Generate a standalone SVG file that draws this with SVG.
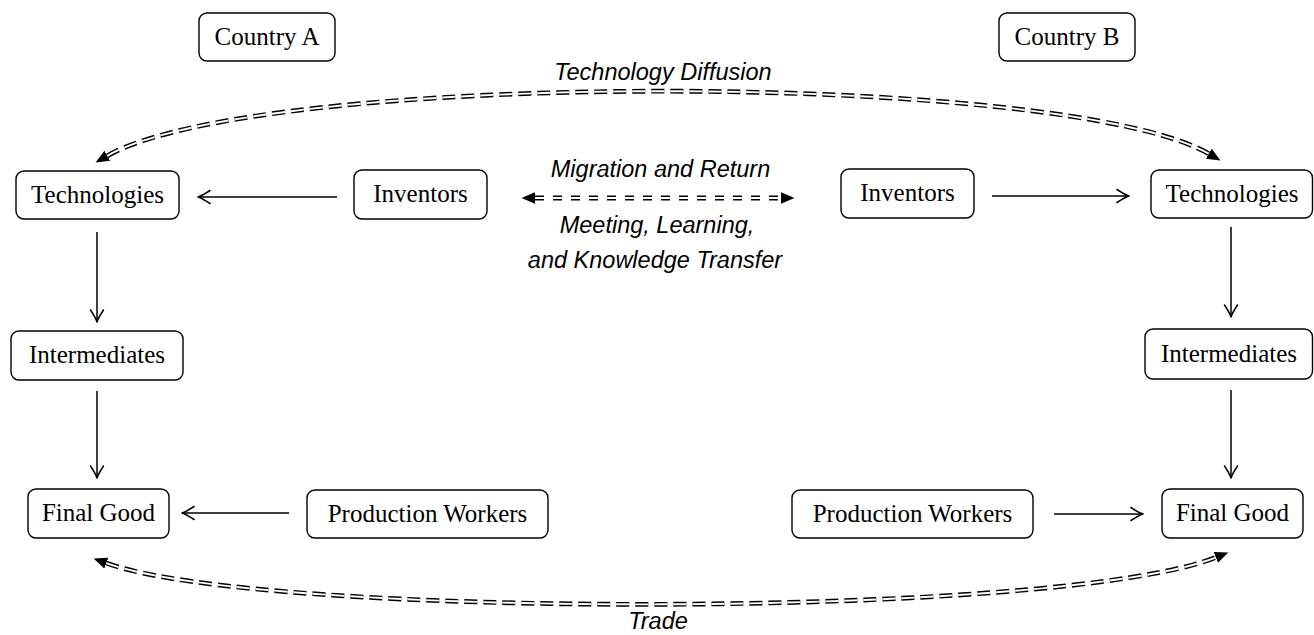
<svg xmlns="http://www.w3.org/2000/svg" width="1314" height="635" viewBox="0 0 1314 635">
<style>
.box{fill:#fff;stroke:#000;stroke-width:1.4}
.nt{font-family:"Liberation Serif","Times New Roman",serif;font-size:25px;text-anchor:middle;fill:#000}
.lb{font-family:"Liberation Sans",Arial,sans-serif;font-style:italic;font-size:23.5px;text-anchor:middle;fill:#000}
.ar{fill:none;stroke:#000;stroke-width:1.5;marker-end:url(#open)}
.dblk{fill:none;stroke:#000;stroke-width:4.8;stroke-dasharray:13 6;marker-start:url(#tri);marker-end:url(#tri)}
.dwht{fill:none;stroke:#fff;stroke-width:1.9;stroke-dasharray:13 6}
.mblk{fill:none;stroke:#000;stroke-width:4.8;stroke-dasharray:9 9;marker-start:url(#tri);marker-end:url(#tri)}
.mwht{fill:none;stroke:#fff;stroke-width:1.9;stroke-dasharray:9 9}
</style>
<defs>
<marker id="open" markerUnits="userSpaceOnUse" markerWidth="16" markerHeight="16" viewBox="-14 -8 16 16" refX="0" refY="0" orient="auto">
<path d="M-12,-6.5 Q-4,-1.2 0,0 Q-4,1.2 -12,6.5" fill="none" stroke="#000" stroke-width="1.5" stroke-linecap="round" stroke-linejoin="round"/>
</marker>
<marker id="tri" markerUnits="userSpaceOnUse" markerWidth="16" markerHeight="14" viewBox="0 -7 16 14" refX="0" refY="0" orient="auto-start-reverse">
<path d="M0,-5.8 L13.5,0 L0,5.8 z" fill="#000"/>
</marker>
</defs>

<g id="countryA"><rect class="box" x="199" y="13" width="136" height="48" rx="8"/><text class="nt" x="267" y="45">Country A</text></g>
<g id="countryB"><rect class="box" x="999" y="13" width="136" height="48" rx="8"/><text class="nt" x="1067" y="45">Country B</text></g>

<g id="techA"><rect class="box" x="16" y="171" width="163" height="48" rx="8"/><text class="nt" x="97.5" y="203">Technologies</text></g>
<g id="invA"><rect class="box" x="354" y="170" width="133" height="49" rx="8"/><text class="nt" x="420.5" y="202">Inventors</text></g>
<g id="invB"><rect class="box" x="841" y="169" width="133" height="49" rx="8"/><text class="nt" x="907.5" y="201">Inventors</text></g>
<g id="techB"><rect class="box" x="1151" y="170" width="161.5" height="48" rx="8"/><text class="nt" x="1232" y="202">Technologies</text></g>

<g id="interA"><rect class="box" x="11" y="331" width="172" height="49" rx="8"/><text class="nt" x="97" y="363">Intermediates</text></g>
<g id="interB"><rect class="box" x="1145" y="329" width="167.5" height="50" rx="8"/><text class="nt" x="1229" y="362">Intermediates</text></g>

<g id="finalA"><rect class="box" x="28" y="489" width="141" height="49" rx="8"/><text class="nt" x="98.5" y="521">Final Good</text></g>
<g id="workersA"><rect class="box" x="307" y="490" width="241" height="48" rx="8"/><text class="nt" x="427.5" y="522">Production Workers</text></g>
<g id="workersB"><rect class="box" x="792" y="490" width="241" height="48" rx="8"/><text class="nt" x="912.5" y="522">Production Workers</text></g>
<g id="finalB"><rect class="box" x="1162" y="489" width="141" height="49" rx="8"/><text class="nt" x="1232.5" y="521">Final Good</text></g>

<g id="connectors">
<path class="ar" d="M337,197 L198,197"/>
<path class="ar" d="M97,232 L97,322"/>
<path class="ar" d="M97,391 L97,478"/>
<path class="ar" d="M289,513 L182,513"/>
<path class="ar" d="M992,196 L1129,196"/>
<path class="ar" d="M1231,227 L1231,317"/>
<path class="ar" d="M1231,390 L1231,478"/>
<path class="ar" d="M1054,514 L1143,514"/>

<path class="dblk" d="M107.3,155.8 C258,70 1062,70 1208.8,153.7"/>
<path class="dwht" d="M107.3,155.8 C258,70 1062,70 1208.8,153.7"/>

<path class="dblk" d="M106.3,563.1 C260,619 1060,619 1215.8,557.4"/>
<path class="dwht" d="M106.3,563.1 C260,619 1060,619 1215.8,557.4"/>

<path class="mblk" d="M535,198 L781,198"/>
<path class="mwht" d="M535,198 L781,198"/>
</g>

<g id="labels">
<text class="lb" x="663" y="80">Technology Diffusion</text>
<text class="lb" x="660.5" y="177">Migration and Return</text>
<text class="lb" x="657" y="233">Meeting, Learning,</text>
<text class="lb" x="655" y="268">and Knowledge Transfer</text>
<text class="lb" x="658" y="629">Trade</text>
</g>
</svg>
